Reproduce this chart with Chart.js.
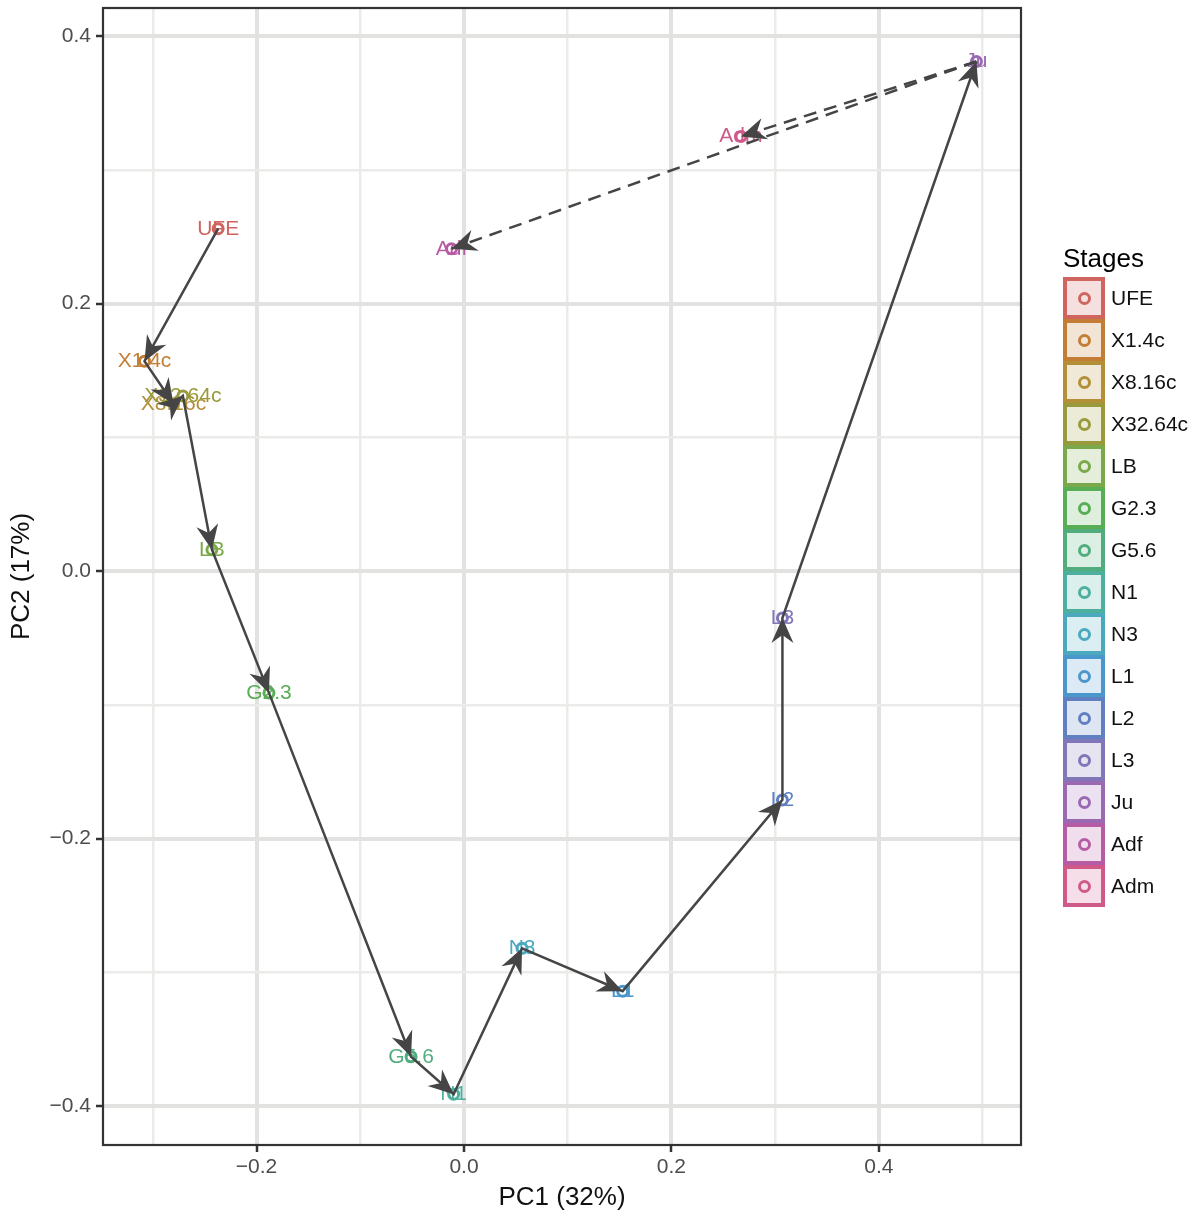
<!DOCTYPE html>
<html>
<head>
<meta charset="utf-8">
<script src="https://cdn.jsdelivr.net/npm/chart.js@4"></script>
<style>
  body { margin: 0; background: #fff; font-family: 'Liberation Sans', Arial, sans-serif; }
  #wrap { position: relative; width: 1202px; height: 1213px; }
  #legend { position: absolute; left: 1063px; top: 240px; }
  #legend .title { font-size: 26px; color: #000; height: 37px; line-height: 37px; }
  #legend .row { display: flex; align-items: center; height: 42px; }
  #legend .key { width: 34px; height: 34px; border: 4px solid; display: flex; align-items: center; justify-content: center; }
  #legend .dot { width: 7px; height: 7px; border-radius: 50%; border: 3px solid; }
  #legend .lab { margin-left: 6px; font-size: 21px; color: #111; }
</style>
</head>
<body>
<div id="wrap">
  <canvas id="pca" width="1202" height="1213"></canvas>
  <div id="legend"></div>
</div>
<script>
// stage names, PCA coordinates and colours
const stages = ['UFE', 'X1.4c', 'X8.16c', 'X32.64c', 'LB', 'G2.3', 'G5.6', 'N1', 'N3', 'L1', 'L2', 'L3', 'Ju', 'Adf', 'Adm'];
const pc1 = [-0.237, -0.308, -0.280, -0.271, -0.243, -0.188, -0.051, -0.010, 0.056, 0.153, 0.307, 0.307, 0.494, -0.012, 0.267];
const pc2 = [0.256, 0.157, 0.125, 0.131, 0.016, -0.091, -0.363, -0.391, -0.282, -0.314, -0.171, -0.035, 0.381, 0.241, 0.325];
const colors = ['#d0645f', '#c47d34', '#b38f37', '#999a3b', '#7aa84a', '#59ad55', '#52ad7e', '#4daf9e',
                '#4aa9bf', '#4a97cb', '#6080c2', '#8077b8', '#9a69b2', '#b65ca5', '#cf5a8a'];
// developmental path (solid) and the two adult branches (dashed)
const pathOrder = ['UFE', 'X1.4c', 'X8.16c', 'X32.64c', 'LB', 'G2.3', 'G5.6', 'N1', 'N3', 'L1', 'L2', 'L3', 'Ju'];
const adultBranches = [['Ju', 'Adm'], ['Ju', 'Adf']];
const xTicks = [-0.3, -0.2, -0.1, 0.0, 0.1, 0.2, 0.3, 0.4, 0.5];
const yTicks = [-0.4, -0.3, -0.2, -0.1, 0.0, 0.1, 0.2, 0.3, 0.4];
const xLabelled = [-0.2, 0.0, 0.2, 0.4];
const yLabelled = [-0.4, -0.2, 0.0, 0.2, 0.4];

const ARROW = '#454545';
const pt = name => { const i = stages.indexOf(name); return { x: pc1[i], y: pc2[i] }; };
const isMajor = (v, list) => list.some(t => Math.abs(t - v) < 1e-9);
const fmt = v => (v < 0 ? '\u2212' : '') + Math.abs(v).toFixed(1);

const datasets = [
  {
    label: 'path',
    type: 'line',
    data: pathOrder.map(pt),
    borderColor: ARROW,
    borderWidth: 2.5,
    pointRadius: 0,
    fill: false,
    tension: 0,
    order: 0
  }
];
adultBranches.forEach(b => {
  datasets.push({
    label: b.join('-'),
    type: 'line',
    data: b.map(pt),
    borderColor: ARROW,
    borderWidth: 2.5,
    borderDash: [13, 8],
    pointRadius: 0,
    fill: false,
    order: 0
  });
});
datasets.push({
  label: 'stages',
  type: 'scatter',
  data: stages.map((s, i) => ({ x: pc1[i], y: pc2[i] })),
  pointRadius: 5,
  pointBorderWidth: 3,
  pointBackgroundColor: 'rgba(0,0,0,0)',
  pointBorderColor: colors,
  order: 1
});

// stage labels under the marks, panel border and arrowheads above
const decor = {
  id: 'decor',
  beforeDatasetsDraw(chart) {
    const { ctx, scales } = chart;
    ctx.save();
    ctx.font = '21px "Liberation Sans", Arial, sans-serif';
    ctx.textAlign = 'center';
    ctx.textBaseline = 'middle';
    stages.forEach((s, i) => {
      ctx.fillStyle = colors[i];
      ctx.fillText(s, scales.x.getPixelForValue(pc1[i]), scales.y.getPixelForValue(pc2[i]));
    });
    ctx.restore();
  },
  afterDatasetsDraw(chart) {
    const { ctx, scales, chartArea: a } = chart;
    const head = (p, q) => {
      const x0 = scales.x.getPixelForValue(p.x), y0 = scales.y.getPixelForValue(p.y);
      const x1 = scales.x.getPixelForValue(q.x), y1 = scales.y.getPixelForValue(q.y);
      const ang = Math.atan2(y1 - y0, x1 - x0);
      const L = 25, W = 11, N = 8;
      ctx.save();
      ctx.translate(x1, y1);
      ctx.rotate(ang);
      ctx.beginPath();
      ctx.moveTo(0, 0);
      ctx.lineTo(-L, -W);
      ctx.lineTo(-L + N, 0);
      ctx.lineTo(-L, W);
      ctx.closePath();
      ctx.fillStyle = ARROW;
      ctx.fill();
      ctx.restore();
    };
    for (let i = 1; i < pathOrder.length; i++) head(pt(pathOrder[i - 1]), pt(pathOrder[i]));
    adultBranches.forEach(b => head(pt(b[0]), pt(b[1])));
    ctx.save();
    ctx.strokeStyle = '#333333';
    ctx.lineWidth = 2.2;
    ctx.strokeRect(a.left, a.top, a.right - a.left, a.bottom - a.top);
    ctx.restore();
  }
};

const gridOpts = list => ({
  color: c => isMajor(c.tick.value, list) ? '#e2e2e0' : '#ebebe9',
  lineWidth: c => isMajor(c.tick.value, list) ? 4 : 2.5,
  tickColor: c => isMajor(c.tick.value, list) ? '#333333' : 'rgba(0,0,0,0)',
  tickLength: 7,
  tickWidth: 2.5
});

new Chart(document.getElementById('pca'), {
  type: 'scatter',
  data: { datasets },
  options: {
    responsive: false,
    animation: false,
    layout: { padding: { left: 0, right: 181, top: 8, bottom: 0 } },
    plugins: { legend: { display: false }, tooltip: { enabled: false } },
    scales: {
      x: {
        type: 'linear',
        min: -0.348,
        max: 0.537,
        afterBuildTicks: s => { s.ticks = xTicks.map(v => ({ value: v })); },
        afterFit: s => { s.height = 68; s.paddingLeft = 0; s.paddingRight = 0; },
        grid: gridOpts(xLabelled),
        border: { display: false },
        ticks: {
          autoSkip: false,
          maxRotation: 0,
          padding: 3,
          color: '#4d4d4d',
          font: { family: '"Liberation Sans", Arial, sans-serif', size: 21 },
          callback: v => isMajor(v, xLabelled) ? fmt(v) : ''
        },
        title: {
          display: true,
          text: 'PC1 (32%)',
          color: '#111',
          padding: { top: 0, bottom: 0 },
          font: { family: '"Liberation Sans", Arial, sans-serif', size: 26 }
        }
      },
      y: {
        type: 'linear',
        min: -0.429,
        max: 0.421,
        afterBuildTicks: s => { s.ticks = yTicks.map(v => ({ value: v })); },
        afterFit: s => { s.width = 103; s.paddingTop = 0; s.paddingBottom = 0; },
        grid: gridOpts(yLabelled),
        border: { display: false },
        ticks: {
          autoSkip: false,
          padding: 5,
          color: '#4d4d4d',
          font: { family: '"Liberation Sans", Arial, sans-serif', size: 21 },
          callback: v => isMajor(v, yLabelled) ? fmt(v) : ''
        },
        title: {
          display: true,
          text: 'PC2 (17%)',
          color: '#111',
          padding: { top: 6, bottom: 0 },
          font: { family: '"Liberation Sans", Arial, sans-serif', size: 26 }
        }
      }
    }
  },
  plugins: [decor]
});

// legend built from the same arrays
const legend = document.getElementById('legend');
const ttl = document.createElement('div');
ttl.className = 'title';
ttl.textContent = 'Stages';
legend.appendChild(ttl);
stages.forEach((s, i) => {
  const row = document.createElement('div');
  row.className = 'row';
  const key = document.createElement('div');
  key.className = 'key';
  key.style.borderColor = colors[i];
  key.style.background = colors[i] + '33';
  const dot = document.createElement('div');
  dot.className = 'dot';
  dot.style.borderColor = colors[i];
  key.appendChild(dot);
  const lab = document.createElement('span');
  lab.className = 'lab';
  lab.textContent = s;
  row.appendChild(key);
  row.appendChild(lab);
  legend.appendChild(row);
});
</script>
</body>
</html>
